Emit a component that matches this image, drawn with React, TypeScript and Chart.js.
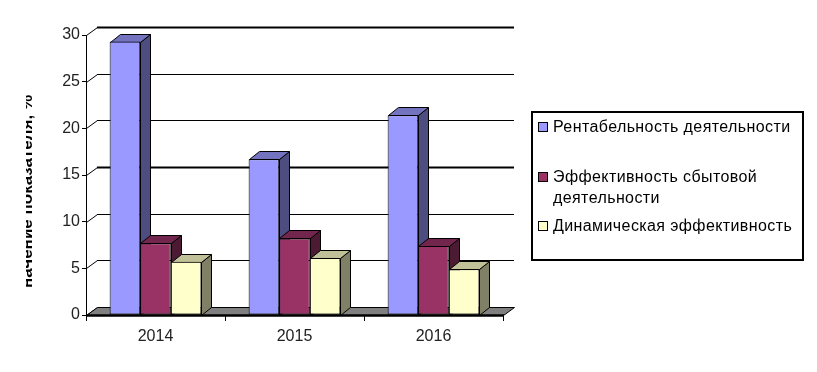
import React, { useEffect, useRef } from 'react';
import { Chart, registerables } from 'chart.js';

Chart.register(...registerables);

const categories = ['2014', '2015', '2016'];
const seriesLabels = [
  'Рентабельность деятельности',
  'Эффективность сбытовой деятельности',
  'Динамическая эффективность',
];
const rentabelnost = [29.3, 16.7, 21.4];
const sbytovaya = [7.7, 8.2, 7.4];
const dinamicheskaya = [5.7, 6.1, 4.9];
const yMin = 0;
const yMax = 30;
const yStep = 5;
const yTitle = 'начение показателя, %';

const frontColors = ['#9999ff', '#993366', '#ffffcc'];
const sideColors = ['#4d4d80', '#4d1a33', '#808066'];
const topColors = ['#7373c0', '#73264d', '#c0c099'];

const W = 817;
const H = 372;
const FONT = "'Liberation Sans', Arial, sans-serif";
const DX = 10;
const DY = -8;
const WDX = 11;
const WDY = -8;

function poly(ctx: CanvasRenderingContext2D, pts: number[][], fill: string, lw = 1) {
  ctx.beginPath();
  ctx.moveTo(pts[0][0], pts[0][1]);
  for (let i = 1; i < pts.length; i++) ctx.lineTo(pts[i][0], pts[i][1]);
  ctx.closePath();
  ctx.fillStyle = fill;
  ctx.fill();
  ctx.lineWidth = lw;
  ctx.strokeStyle = '#000';
  ctx.stroke();
}

function line(ctx: CanvasRenderingContext2D, x1: number, y1: number, x2: number, y2: number, lw = 1) {
  ctx.beginPath();
  ctx.moveTo(x1, y1);
  ctx.lineTo(x2, y2);
  ctx.lineWidth = lw;
  ctx.strokeStyle = '#000';
  ctx.stroke();
}

const depthPlugin = {
  id: 'depth3d',
  beforeDatasetsDraw(chart: any) {
    const ctx: CanvasRenderingContext2D = chart.ctx;
    const { left, right, bottom } = chart.chartArea;
    const ys = chart.scales.y;
    ctx.save();
    for (const t of ys.ticks) {
      const py = Math.round(ys.getPixelForValue(t.value)) + 0.5;
      line(ctx, left + 0.5, py, left + WDX + 0.5, py + WDY);
      if (t.value > yMin) {
        const lw = t.value === 30 || t.value === 15 ? 2 : 1;
        line(ctx, left + WDX, py + WDY, right + WDX, py + WDY, lw);
      }
    }
    const fb = Math.round(bottom) + 0.5;
    poly(ctx, [
      [left + 0.5, fb],
      [right + 0.5, fb],
      [right + WDX + 0.5, fb + WDY],
      [left + WDX + 0.5, fb + WDY],
    ], '#808080');
    line(ctx, left, fb, right + 1, fb, 2);
    const n = chart.data.datasets.length;
    for (let i = 0; i < categories.length; i++) {
      for (let d = 0; d < n; d++) {
        const el = chart.getDatasetMeta(d).data[i];
        const p = el.getProps(['x', 'y', 'base', 'width'], true);
        const l = Math.round(p.x - p.width / 2) + 0.5;
        const r = Math.round(p.x + p.width / 2) + 0.5;
        const ty = Math.round(p.y) + 0.5;
        const b = Math.round(p.base) + 0.5;
        poly(ctx, [[r, ty], [r + DX, ty + DY], [r + DX, b + DY], [r, b]], sideColors[d]);
        poly(ctx, [[l, ty], [l + DX, ty + DY], [r + DX, ty + DY], [r, ty]], topColors[d]);
      }
    }
    ctx.restore();
  },
  afterDatasetsDraw(chart: any) {
    const ctx: CanvasRenderingContext2D = chart.ctx;
    const { left, right, bottom } = chart.chartArea;
    ctx.save();
    const fb = Math.round(bottom) + 0.5;
    line(ctx, left, fb, right + 1, fb, 2);
    ctx.restore();
  },
};

function wrap(ctx: CanvasRenderingContext2D, text: string, maxW: number): string[] {
  const words = text.split(' ');
  const lines: string[] = [];
  let cur = '';
  for (const w of words) {
    const test = cur ? cur + ' ' + w : w;
    if (ctx.measureText(test).width > maxW && cur) {
      lines.push(cur);
      cur = w;
    } else cur = test;
  }
  if (cur) lines.push(cur);
  return lines;
}

const legendPlugin = {
  id: 'boxLegend',
  afterDraw(chart: any) {
    const ctx: CanvasRenderingContext2D = chart.ctx;
    ctx.save();
    const bx = 532, by = 112, bw = 271, bh = 148;
    ctx.lineWidth = 2;
    ctx.strokeStyle = '#000';
    ctx.strokeRect(bx, by, bw, bh);
    ctx.font = `16px ${FONT}`;
    (ctx as any).letterSpacing = '0.4px';
    ctx.textBaseline = 'middle';
    ctx.fillStyle = '#000';
    const itemY = [128, 178, 227];
    chart.data.datasets.forEach((ds: any, i: number) => {
      const y = itemY[i];
      ctx.fillStyle = ds.backgroundColor;
      ctx.fillRect(538.5, y - 5.5, 9, 9);
      ctx.lineWidth = 1;
      ctx.strokeRect(538.5, y - 5.5, 9, 9);
      ctx.fillStyle = '#000';
      const lines = wrap(ctx, ds.label, 245);
      lines.forEach((ln, k) => ctx.fillText(ln, 553, y + k * 21));
    });
    ctx.restore();
  },
};

const titlePlugin = {
  id: 'clippedTitle',
  afterDraw(chart: any) {
    const ctx: CanvasRenderingContext2D = chart.ctx;
    ctx.save();
    ctx.beginPath();
    ctx.rect(26, 0, 40, H);
    ctx.clip();
    ctx.translate(32, 288);
    ctx.rotate(-Math.PI / 2);
    ctx.font = `bold 17px ${FONT}`;
    ctx.fillStyle = '#000';
    ctx.textBaseline = 'alphabetic';
    ctx.textAlign = 'left';
    ctx.fillText(yTitle, 0, 0);
    ctx.restore();
  },
};

export default function App() {
  const ref = useRef<HTMLCanvasElement>(null);
  useEffect(() => {
    document.body.style.margin = '0';
    const canvas = ref.current!;
    const chart = new Chart(canvas, {
      type: 'bar',
      data: {
        labels: categories,
        datasets: [
          { label: seriesLabels[0], data: rentabelnost, backgroundColor: frontColors[0] },
          { label: seriesLabels[1], data: sbytovaya, backgroundColor: frontColors[1] },
          { label: seriesLabels[2], data: dinamicheskaya, backgroundColor: frontColors[2] },
        ].map((d) => ({ ...d, borderColor: '#000', borderWidth: 1, borderSkipped: false })),
      },
      options: {
        responsive: false,
        animation: false,
        devicePixelRatio: 1,
        layout: { padding: { left: 0, top: 35, right: W - 503, bottom: 0 } },
        datasets: { bar: { categoryPercentage: 0.66, barPercentage: 1 } },
        plugins: { legend: { display: false }, tooltip: { enabled: false }, title: { display: false } },
        scales: {
          x: {
            afterFit: (s: any) => { s.height = H - 315; },
            grid: { display: true, drawOnChartArea: false, drawTicks: true, tickLength: 6, color: '#000', offset: true },
            border: { display: false },
            ticks: { font: { family: FONT, size: 16 }, color: '#222', padding: 6 },
          },
          y: {
            min: yMin,
            max: yMax,
            afterFit: (s: any) => { s.width = 86; },
            grid: { display: true, drawOnChartArea: false, drawTicks: true, tickLength: 4, color: '#000' },
            border: { display: true, color: '#000', width: 1 },
            ticks: { stepSize: yStep, font: { family: FONT, size: 16 }, color: '#222', padding: 2 },
          },
        },
      },
      plugins: [depthPlugin, legendPlugin, titlePlugin],
    });
    return () => chart.destroy();
  }, []);
  return (
    <div style={{ position: 'absolute', left: 0, top: 0, width: W, height: H, background: '#fff' }}>
      <canvas ref={ref} width={W} height={H} />
    </div>
  );
}
